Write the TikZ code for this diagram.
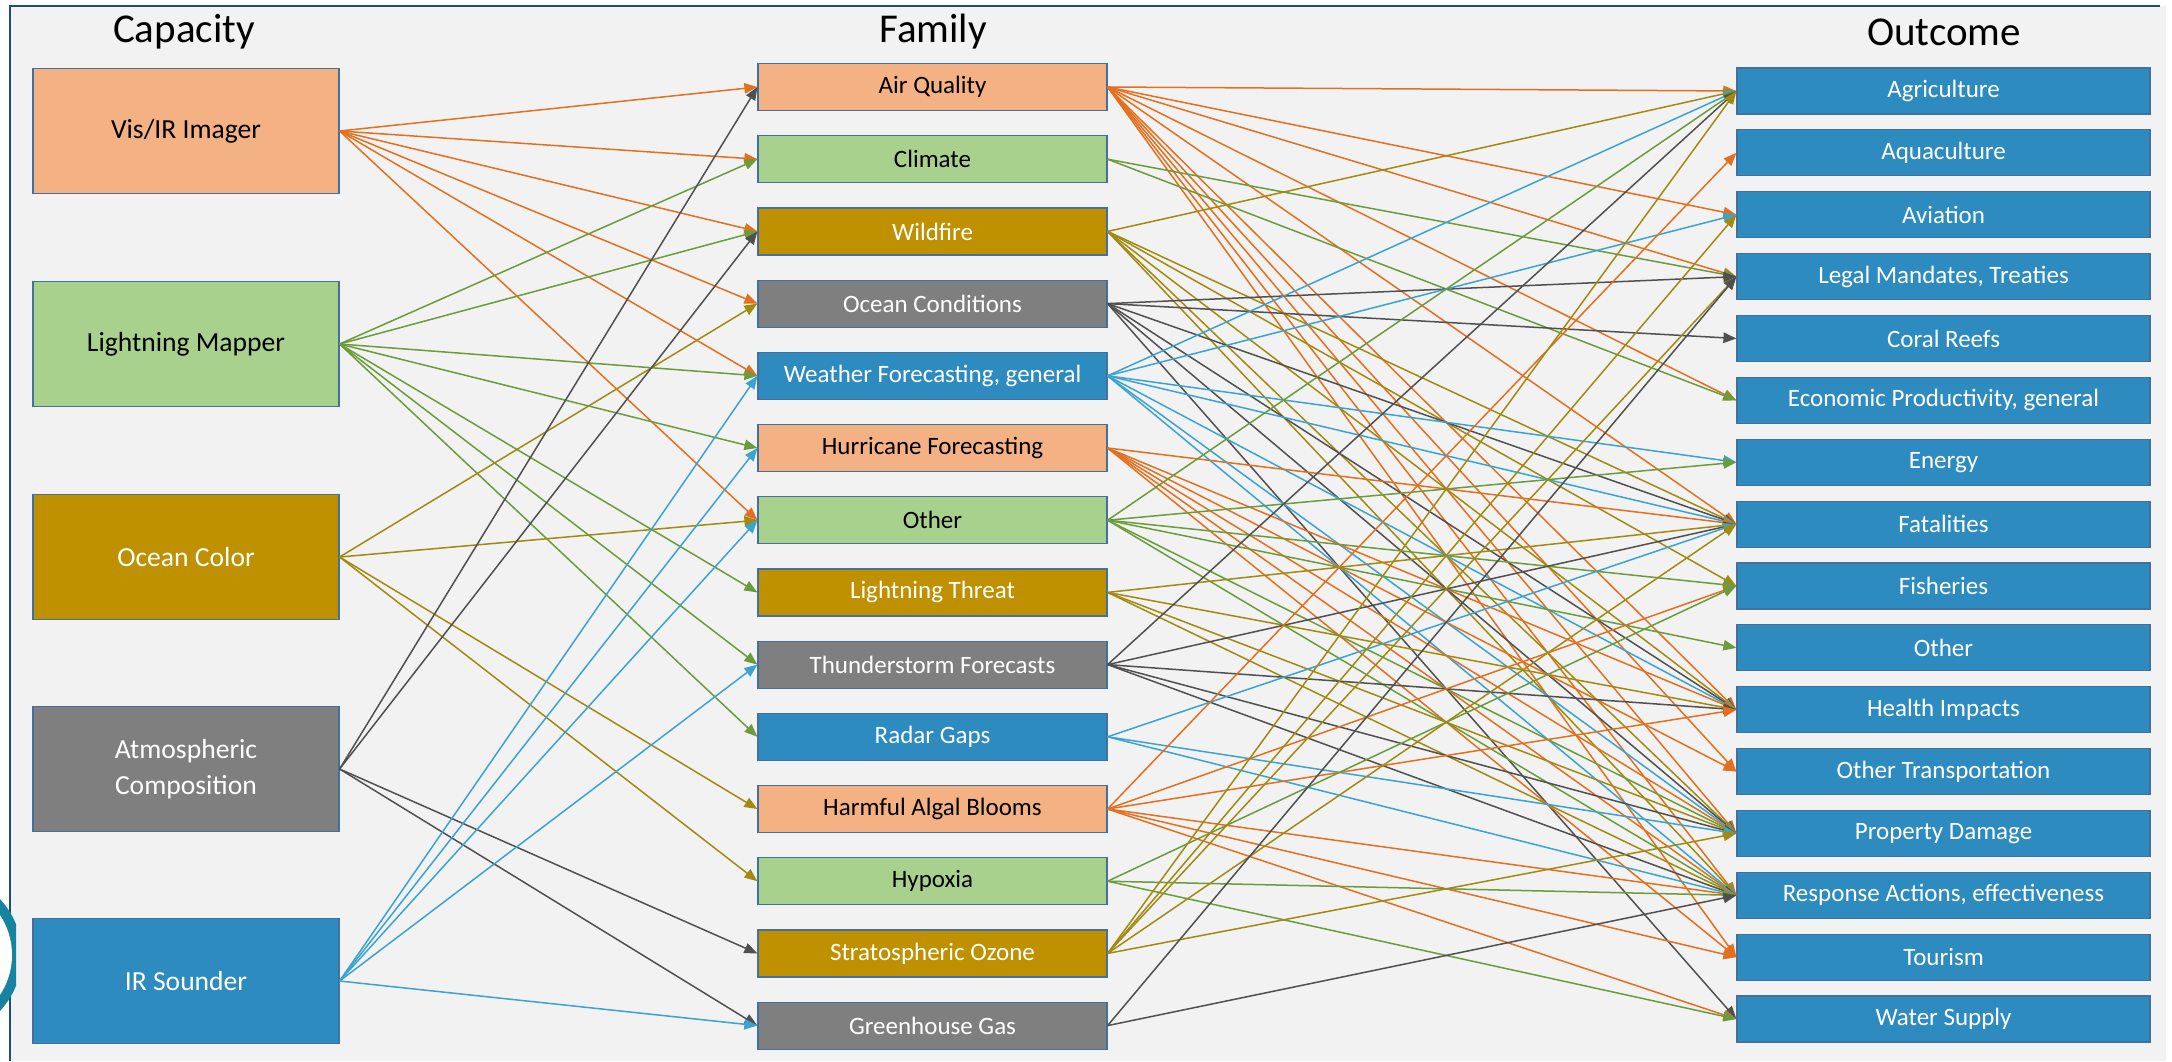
\documentclass[tikz,border=0pt]{standalone}
\usepackage{fontspec}
\setmainfont{Carlito}
\usetikzlibrary{arrows.meta}
% box fills
\definecolor{pagebg}{HTML}{F2F2F2}
\definecolor{frameblue}{HTML}{1F4E79}
\definecolor{peach}{HTML}{F4B183}
\definecolor{leaf}{HTML}{A9D18E}
\definecolor{gold}{HTML}{BF9000}
\definecolor{slate}{HTML}{7F7F7F}
\definecolor{sea}{HTML}{2E8BC0}
\definecolor{boxline}{HTML}{41719C}
% connector colours
\definecolor{lnorange}{HTML}{E2701F}
\definecolor{lngreen}{HTML}{6B9B3A}
\definecolor{lnolive}{HTML}{A08A10}
\definecolor{lngray}{HTML}{505050}
\definecolor{lnblue}{HTML}{3BA3D0}
\begin{document}
\begin{tikzpicture}[x=0.5pt,y=-0.5pt,
  basebox/.style={draw=boxline,line width=0.6pt,inner sep=0pt,align=center},
  capbox/.style={basebox,minimum width=153pt,minimum height=62.5pt,font=\fontsize{13.8}{16}\selectfont},
  fambox/.style={basebox,minimum width=174.5pt,minimum height=23.5pt,font=\fontsize{12.5}{14}\selectfont},
  outbox/.style={basebox,fill=sea,text=white,minimum width=206.5pt,minimum height=23pt,font=\fontsize{12.5}{14}\selectfont},
  heading/.style={font=\fontsize{20.5}{24}\selectfont},
  link/.style={line width=0.75pt,-{Triangle[length=6.5pt,width=5.2pt]}},
  lorange/.style={link,lnorange},
  lgreen/.style={link,lngreen},
  lolive/.style={link,lnolive},
  lgray/.style={link,lngray},
  lblue/.style={link,lnblue}]
\useasboundingbox (0,0) rectangle (2172,1061);
% page and frame
\fill[white] (0,0) rectangle (2172,1061);
\fill[pagebg] (10,6) rectangle (2166,1061);
\draw[frameblue,line width=1.2pt] (10,1061) -- (10,6) -- (2160,6);
% partial emblem at the left edge
\begin{scope}
  \clip (0,860) rectangle (16,1061);
  \fill[frameblue!70!cyan] (-60,955) circle (82);
  \fill[white] (-60,955) circle (72);
\end{scope}

% headings
\node[heading] (hcap) at (184,32) {Capacity};
\node[heading] (hfam) at (933,32) {Family};
\node[heading] (hout) at (1944,32) {Outcome};

% capacity column
\node[capbox,fill=peach] (c1) at (186,131) {Vis/IR Imager};
\node[capbox,fill=leaf] (c2) at (186,344) {Lightning Mapper};
\node[capbox,fill=gold,text=white] (c3) at (186,557) {Ocean Color};
\node[capbox,fill=slate,text=white] (c4) at (186,769) {Atmospheric\\[2pt]Composition};
\node[capbox,fill=sea,text=white] (c5) at (186,981) {IR Sounder};

% family column
\node[fambox,fill=peach] (f1) at (932.5,87) {Air Quality};
\node[fambox,fill=leaf] (f2) at (932.5,159.2) {Climate};
\node[fambox,fill=gold,text=white] (f3) at (932.5,231.4) {Wildfire};
\node[fambox,fill=slate,text=white] (f4) at (932.5,303.6) {Ocean Conditions};
\node[fambox,fill=sea,text=white] (f5) at (932.5,375.8) {Weather Forecasting, general};
\node[fambox,fill=peach] (f6) at (932.5,448) {Hurricane Forecasting};
\node[fambox,fill=leaf] (f7) at (932.5,520.2) {Other};
\node[fambox,fill=gold,text=white] (f8) at (932.5,592.4) {Lightning Threat};
\node[fambox,fill=slate,text=white] (f9) at (932.5,664.6) {Thunderstorm Forecasts};
\node[fambox,fill=sea,text=white] (f10) at (932.5,736.8) {Radar Gaps};
\node[fambox,fill=peach] (f11) at (932.5,809) {Harmful Algal Blooms};
\node[fambox,fill=leaf] (f12) at (932.5,881.2) {Hypoxia};
\node[fambox,fill=gold,text=white] (f13) at (932.5,953.4) {Stratospheric Ozone};
\node[fambox,fill=slate,text=white] (f14) at (932.5,1025.6) {Greenhouse Gas};

% outcome column
\foreach \i/\lbl in {1/Agriculture,2/Aquaculture,3/Aviation,4/{Legal Mandates, Treaties},
  5/Coral Reefs,6/{Economic Productivity, general},7/Energy,8/Fatalities,9/Fisheries,
  10/Other,11/Health Impacts,12/Other Transportation,13/Property Damage,
  14/{Response Actions, effectiveness},15/Tourism,16/Water Supply}
  \node[outbox] (o\i) at (1943.5,{91+61.87*(\i-1)}) {\lbl};

% capacity -> family
\foreach \t in {1,2,3,4,5,7} \draw[lorange] (c1.east) -- (f\t.west);
\foreach \t in {2,3,5,6,8,9,10} \draw[lgreen] (c2.east) -- (f\t.west);
\foreach \t in {4,7,11,12} \draw[lolive] (c3.east) -- (f\t.west);
\foreach \t in {1,3,13,14} \draw[lgray] (c4.east) -- (f\t.west);
\foreach \t in {5,6,7,9,14} \draw[lblue] (c5.east) -- (f\t.west);

% family -> outcome
\foreach \t in {1,3,4,6,8,11,12,13,14,15} \draw[lorange] (f1.east) -- (o\t.west);
\foreach \t in {4,6} \draw[lgreen] (f2.east) -- (o\t.west);
\foreach \t in {1,8,9,11,13,14} \draw[lolive] (f3.east) -- (o\t.west);
\foreach \t in {4,5,8,11,13,16} \draw[lgray] (f4.east) -- (o\t.west);
\foreach \t in {1,3,7,8,11,13,14} \draw[lblue] (f5.east) -- (o\t.west);
\foreach \t in {8,11,12,13,14,15} \draw[lorange] (f6.east) -- (o\t.west);
\foreach \t in {1,7,9,10,13,14} \draw[lgreen] (f7.east) -- (o\t.west);
\foreach \t in {8,11,13,14} \draw[lolive] (f8.east) -- (o\t.west);
\foreach \t in {1,8,11,13,14} \draw[lgray] (f9.east) -- (o\t.west);
\foreach \t in {8,13,14} \draw[lblue] (f10.east) -- (o\t.west);
\foreach \t in {2,9,11,14,15,16} \draw[lorange] (f11.east) -- (o\t.west);
\foreach \t in {9,14,16} \draw[lgreen] (f12.east) -- (o\t.west);
\foreach \t in {1,3,4,8,13} \draw[lolive] (f13.east) -- (o\t.west);
\foreach \t in {4,14} \draw[lgray] (f14.east) -- (o\t.west);
\end{tikzpicture}
\end{document}
